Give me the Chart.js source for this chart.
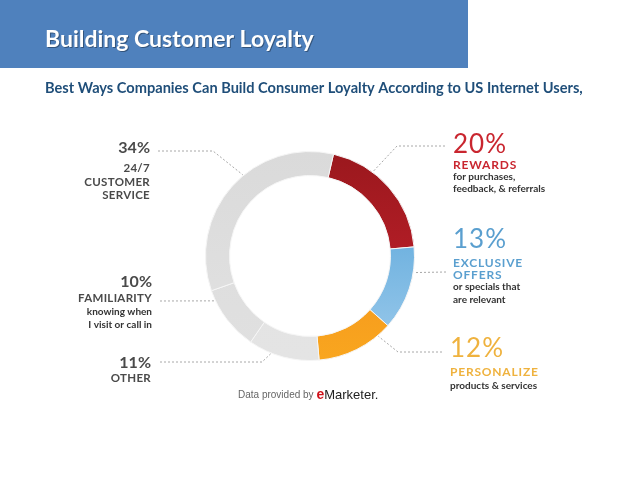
<!DOCTYPE html>
<html>
<head>
<meta charset="utf-8">
<script src="https://cdn.jsdelivr.net/npm/chart.js@4/dist/chart.umd.min.js"></script>
<style>
html,body{margin:0;padding:0;background:#fff;}
#wrap{position:relative;width:638px;height:479px;}
canvas{position:absolute;left:0;top:0;}
</style>
</head>
<body>
<div id="wrap"><canvas id="c" width="638" height="479"></canvas></div>
<script>
// ---- data ----
const categories = ['REWARDS', 'EXCLUSIVE OFFERS', 'PERSONALIZE', 'OTHER', 'FAMILIARITY', '24/7 CUSTOMER SERVICE'];
const shares = [20, 13, 12, 11, 10, 34];
const headingLines = [['REWARDS'], ['EXCLUSIVE', 'OFFERS'], ['PERSONALIZE'], ['OTHER'], ['FAMILIARITY'], ['24/7', 'CUSTOMER', 'SERVICE']];
const noteLines = [['for purchases,', 'feedback, & referrals'], ['or specials that', 'are relevant'], ['products & services'], [], ['knowing when', 'I visit or call in'], []];
const titleText = 'Building Customer Loyalty';
const subtitleText = 'Best Ways Companies Can Build Consumer Loyalty According to US Internet Users,';
const sourcePrefix = 'Data provided by ';
const sourceBrand = 'Marketer.';

// ---- style ----
const sliceStops = [['#9a181d', '#c9222f'], ['#4d9fd6', '#9dcbec'], ['#f08619', '#f9a61f'], ['#e2e2e2', '#e4e4e4'], ['#dcdcdc', '#e0e0e0'], ['#dadada', '#e2e2e2']];
const textColors = ['#c9262f', '#5a9fcf', '#efb23e', '#444', '#444', '#444'];
// label layout (baselines)
const labelLayout = [
  {side:'R', x:453, pct:153, heads:[169], notes:[180, 192], leader:{sx:445, y:146, ex:397, f:0.33}},
  {side:'R', x:453, pct:248, heads:[267, 279], notes:[290, 303], leader:{sx:446, y:272, ex:null, f:0.30}},
  {side:'R', x:450, pct:357, heads:[376], notes:[389], leader:{sx:442, y:352, ex:398, f:0.18}},
  {side:'L', x:151, pct:368, heads:[382], notes:[], leader:{sx:160, y:362, ex:262, f:0.68}},
  {side:'L', x:152, pct:287, heads:[302], notes:[315, 328], leader:{sx:160, y:301, ex:null, f:0.84}},
  {side:'L', x:150, pct:153, heads:[172, 186, 199], notes:[], leader:{sx:158, y:151, ex:213, f:0.57}}
];

function sliceFill(c) {
  const chart = c.chart;
  const area = chart.chartArea;
  const s = sliceStops[c.dataIndex];
  if (!area) return s[0];
  const g = chart.ctx.createLinearGradient(0, area.top, 0, area.bottom);
  g.addColorStop(0, s[0]);
  g.addColorStop(1, s[1]);
  return g;
}

const overlay = {
  id: 'overlay',
  beforeDraw(chart) {
    const ctx = chart.ctx;
    ctx.save();
    ctx.fillStyle = '#ffffff';
    ctx.fillRect(0, 0, chart.width, chart.height);
    // header band
    ctx.fillStyle = '#4f81bd';
    ctx.fillRect(0, 0, 468, 68);
    ctx.font = 'bold 23px Lato, "Open Sans", sans-serif';
    ctx.textBaseline = 'alphabetic';
    ctx.fillStyle = 'rgba(0,0,0,0.35)';
    ctx.fillText(titleText, 46, 48);
    ctx.fillStyle = '#ffffff';
    ctx.fillText(titleText, 45, 47);
    ctx.font = 'bold 14.6px Lato, "Open Sans", sans-serif';
    ctx.fillStyle = '#1f4e79';
    ctx.fillText(subtitleText, 45, 93);
    ctx.restore();
  },
  afterDraw(chart) {
    const ctx = chart.ctx;
    const meta = chart.getDatasetMeta(0);
    ctx.save();
    // leaders
    ctx.strokeStyle = '#a8a8a8';
    ctx.lineWidth = 1;
    ctx.setLineDash([2, 2]);
    meta.data.forEach((arc, i) => {
      const L = labelLayout[i].leader;
      const a = arc.startAngle + (arc.endAngle - arc.startAngle) * L.f;
      const px = arc.x + Math.cos(a) * (arc.outerRadius + 1);
      const py = arc.y + Math.sin(a) * (arc.outerRadius + 1);
      ctx.beginPath();
      ctx.moveTo(L.sx, L.y);
      if (L.ex !== null) ctx.lineTo(L.ex, L.y);
      ctx.lineTo(px, py);
      ctx.stroke();
    });
    ctx.setLineDash([]);
    // labels
    ctx.textBaseline = 'alphabetic';
    labelLayout.forEach((lay, i) => {
      const right = lay.side === 'R';
      ctx.textAlign = right ? 'left' : 'right';
      ctx.fillStyle = right ? textColors[i] : '#4a4a4a';
      ctx.letterSpacing = right ? '1px' : '0px';
      ctx.font = right ? '26px Lato, "Noto Sans", sans-serif' : 'bold 16px Lato, "Noto Sans", sans-serif';
      ctx.fillText(shares[i] + '%', lay.x, lay.pct);
      ctx.letterSpacing = right ? '0.8px' : '0.3px';
      ctx.font = right ? 'bold 12px Lato, "Noto Sans", sans-serif' : 'bold 11.5px Lato, "Noto Sans", sans-serif';
      headingLines[i].forEach((t, k) => ctx.fillText(t, lay.x, lay.heads[k]));
      ctx.letterSpacing = '0px';
      ctx.fillStyle = '#333';
      ctx.font = 'bold 10px Lato, "Noto Sans", sans-serif';
      noteLines[i].forEach((t, k) => ctx.fillText(t, lay.x, lay.notes[k]));
    });
    // source
    ctx.textAlign = 'left';
    ctx.font = '10px "Liberation Sans", Arial, sans-serif';
    ctx.fillStyle = '#666';
    ctx.fillText(sourcePrefix, 238, 398);
    const w = ctx.measureText(sourcePrefix).width;
    ctx.font = 'bold 14px "Liberation Sans", Arial, sans-serif';
    ctx.fillStyle = '#d0121b';
    ctx.fillText('e', 238 + w, 399);
    const w2 = ctx.measureText('e').width;
    ctx.font = '13px "Liberation Sans", Arial, sans-serif';
    ctx.fillStyle = '#222';
    ctx.fillText(sourceBrand, 238 + w + w2, 399);
    ctx.restore();
  }
};

new Chart(document.getElementById('c'), {
  type: 'doughnut',
  data: {
    labels: categories,
    datasets: [{
      data: shares,
      backgroundColor: sliceFill,
      borderColor: '#f6f6f6',
      borderWidth: 1
    }]
  },
  options: {
    responsive: false,
    animation: false,
    rotation: 13,
    cutout: '77%',
    layout: { padding: { left: 205, right: 223, top: 151, bottom: 118 } },
    plugins: { legend: { display: false }, tooltip: { enabled: false } }
  },
  plugins: [overlay]
});
</script>
</body>
</html>
